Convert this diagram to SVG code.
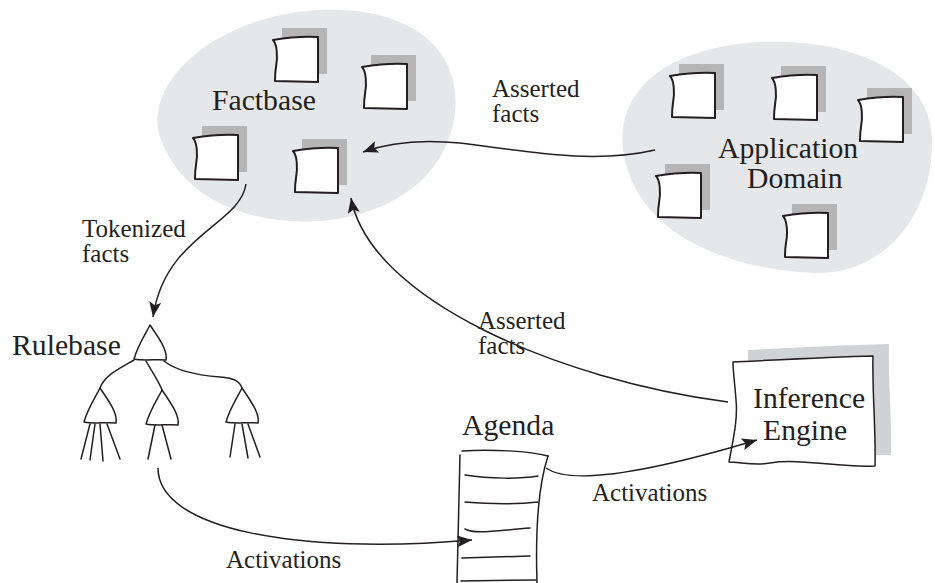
<svg xmlns="http://www.w3.org/2000/svg" xmlns:xlink="http://www.w3.org/1999/xlink" width="935" height="583" viewBox="0 0 935 583">
<style>
.blob{fill:#e6e7e8;stroke:none}
.sh{fill:#b5b5b5;stroke:none}
.sq{fill:#fff;stroke:#231f20;stroke-width:2;stroke-linejoin:round}
.ln{fill:none;stroke:#231f20;stroke-width:1.5;stroke-linecap:round}
.tri{fill:#fff;stroke:#231f20;stroke-width:1.5;stroke-linejoin:round}
.node{font-size:29.7px;fill:#231f20}
.lab{font-size:25px;fill:#231f20}
.con{fill:none;stroke:#231f20;stroke-width:1.5}
</style>
<defs>
<marker id="ah" markerUnits="userSpaceOnUse" markerWidth="16" markerHeight="12" refX="15" refY="6" orient="auto" viewBox="0 0 16 12">
<path d="M0,0 L15,6 L0,12 L3,6 Z" fill="#231f20"/>
</marker>
<g id="fact">
<rect class="sh" x="9" y="-9" width="45" height="46"/>
<path class="sq" d="M0,3 C4,7 5,20 3,30 C2,36 2,40 2,44 L45,45 L45,0 C30,-1 12,1 0,3 Z"/>
</g>
<path id="tri" class="tri" d="M0,0 C-5,10 -12,20 -16,34 C-6,36 6,34 16,35 C18,25 8,12 0,0 Z"/>
</defs>
<g font-family="'Liberation Serif', 'Times New Roman', Times, serif">
<g id="factbase">
<path class="blob" d="M158,130 C150,70 230,14 320,10 C405,6 462,45 455,112 C448,175 395,212 330,220 C262,228 178,205 158,130 Z"/>
<use xlink:href="#fact" x="273" y="37"/>
<use xlink:href="#fact" x="362" y="64"/>
<use xlink:href="#fact" x="193" y="135"/>
<use xlink:href="#fact" x="293" y="148"/>
<text class="node" x="212" y="110">Factbase</text>
</g>

<g id="application-domain">
<path class="blob" d="M623,150 C615,82 680,46 760,42 C852,38 932,72 932,142 C932,220 880,275 815,273 C738,270 636,240 623,150 Z"/>
<use xlink:href="#fact" x="670" y="73"/>
<use xlink:href="#fact" x="772" y="75"/>
<use xlink:href="#fact" x="858" y="97"/>
<use xlink:href="#fact" x="656" y="173"/>
<use xlink:href="#fact" x="783" y="213"/>
<text class="node" x="718" y="158">Application</text>
<text class="node" x="747" y="188">Domain</text>
</g>

<g id="rulebase">
<text class="node" x="12" y="355">Rulebase</text>
<path class="ln" d="M134,360 C120,368 105,375 100,388"/>
<path class="ln" d="M146,361 C152,372 158,380 162,390"/>
<path class="ln" d="M164,361 C175,370 195,375 220,377 C235,378 240,382 242,388"/>
<use xlink:href="#tri" x="150" y="325"/>
<use xlink:href="#tri" x="100" y="388"/>
<use xlink:href="#tri" x="162" y="390"/>
<use xlink:href="#tri" x="242" y="388"/>
<path class="ln" d="M90,424 L81,459 M95,424 L90,460 M100,424 L103,461 M107,424 L120,459"/>
<path class="ln" d="M155,425 L148,459 M162,425 L171,459"/>
<path class="ln" d="M235,424 L230,457 M242,424 L248,458 M248,424 L260,457"/>
</g>

<g id="agenda">
<text class="node" x="462" y="435">Agenda</text>
<path class="ln" d="M462,451 C490,449 530,451 548,456"/>
<path class="ln" d="M460,455 L457,583"/>
<path class="ln" d="M548,456 C540,480 535,520 537,583"/>
<path class="ln" d="M465,475 C490,479 520,479 538,476"/>
<path class="ln" d="M465,502 C490,504 520,504 538,502"/>
<path class="ln" d="M465,529 C475,535 500,530 530,528"/>
<path class="ln" d="M462,558 L530,556"/>
<path class="ln" d="M461,581 L536,580"/>
</g>

<g id="inference-engine">
<path fill="#d1d2d3" d="M748,350 C790,348 845,345 889,344 C888,380 892,420 891,455 L860,455 L860,372 L748,372 Z"/>
<path class="sq" style="stroke-width:1.5" d="M733,362 C775,360 830,357 873,356 C872,390 876,430 875,466 C840,468 800,458 770,463 C755,466 740,462 729,462 C733,440 738,420 736,400 C735,385 733,372 733,362 Z"/>
<text class="node" x="753" y="408">Inference</text>
<text class="node" x="763" y="440">Engine</text>
</g>

<g id="connectors">
<path class="con" d="M655,150 C590,165 520,150 460,143 C420,139 390,142 363,152" marker-end="url(#ah)"/>
<path class="con" d="M246,184 C240,225 165,235 153,317" marker-end="url(#ah)"/>
<path class="con" d="M728,402 C560,380 370,300 351,198" marker-end="url(#ah)"/>
<path class="con" d="M158,468 C158,530 300,555 472,540" marker-end="url(#ah)"/>
<path class="con" d="M546,468 C570,485 640,475 757,440" marker-end="url(#ah)"/>
<text class="lab" x="492" y="97">Asserted</text>
<text class="lab" x="492" y="122">facts</text>
<text class="lab" x="82" y="237">Tokenized</text>
<text class="lab" x="82" y="262">facts</text>
<text class="lab" x="478" y="329">Asserted</text>
<text class="lab" x="478" y="354">facts</text>
<text class="lab" x="592" y="501">Activations</text>
<text class="lab" x="226" y="568">Activations</text>
</g>
</g>
</svg>
